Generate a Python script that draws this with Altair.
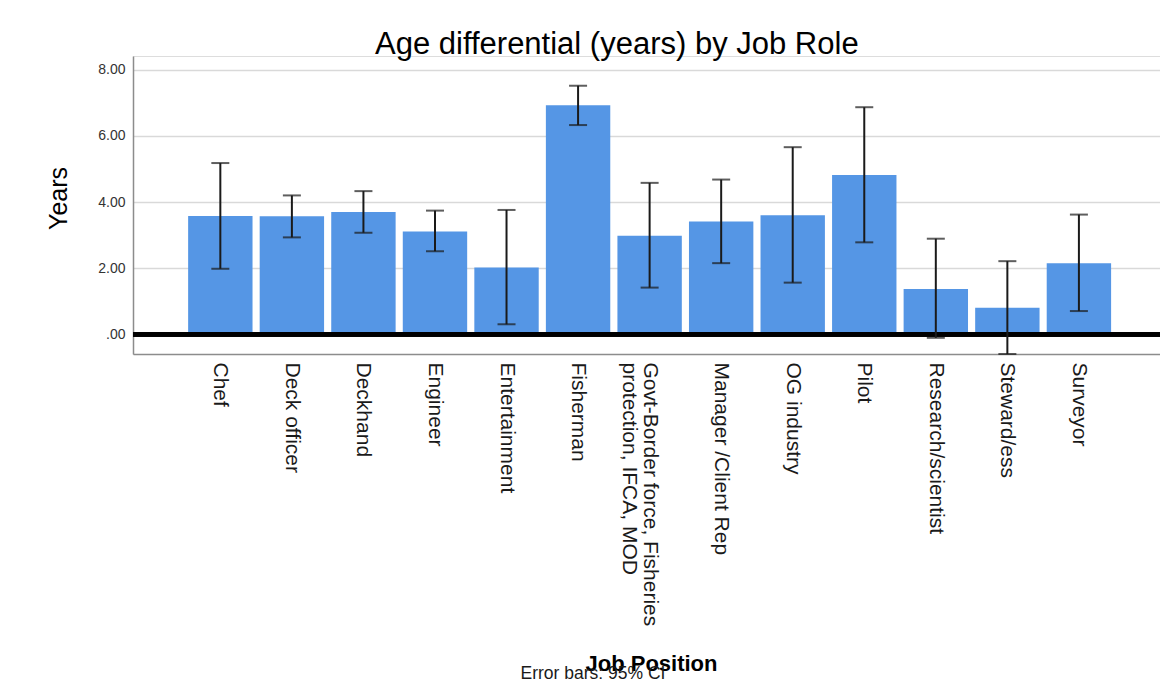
import altair as alt
import pandas as pd

jobs = [
    "Chef", "Deck officer", "Deckhand", "Engineer", "Entertainment", "Fisherman",
    "Govt-Border force, Fisheries protection, IFCA, MOD", "Manager /Client Rep",
    "OG industry", "Pilot", "Research/scientist", "Steward/ess", "Surveyor",
]
mean_years = [3.58, 3.57, 3.70, 3.11, 2.02, 6.93, 2.98, 3.41, 3.60, 4.82, 1.37, 0.80, 2.15]
ci_low = [1.98, 2.93, 3.07, 2.51, 0.30, 6.33, 1.41, 2.15, 1.56, 2.78, -0.11, -0.60, 0.70]
ci_high = [5.18, 4.20, 4.33, 3.74, 3.76, 7.52, 4.58, 4.68, 5.66, 6.87, 2.89, 2.21, 3.62]
y_ticks = [0, 2, 4, 6, 8]
footnote = ["Error bars: 95% CI"]

df = pd.DataFrame({"job": jobs, "mean": mean_years, "lo": ci_low, "hi": ci_high})

SANS = "Liberation Sans, Arial, sans-serif"

x_scale = alt.Scale(paddingInner=0.1, paddingOuter=0.727, align=0.53)
x_axis = alt.Axis(
    title="Job Position", labelAngle=90, labelAlign="left", labelBaseline="middle",
    labelPadding=8, ticks=False, labelLimit=400, labelFont=SANS, labelFontSize=21,
    labelColor="#1a1a1a", labelLineHeight=21, domainColor="#8c8c8c", domainWidth=1.5,
    titleFont=SANS, titleFontSize=22, titleFontWeight="bold", titleColor="black",
    titleX=518, titleY=316, titleAlign="center", titleBaseline="alphabetic",
    labelExpr="datum.label == 'Govt-Border force, Fisheries protection, IFCA, MOD' ? "
              "['Govt-Border force, Fisheries', 'protection, IFCA, MOD'] : datum.label",
)
y_scale = alt.Scale(domain=[-0.6, 8.42], nice=False, zero=False)
y_axis = alt.Axis(
    title="Years", values=y_ticks, grid=True, gridColor="#d9d9d9", gridWidth=1.5,
    ticks=False, labelPadding=8, labelFont=SANS, labelFontSize=14, labelColor="#333333",
    labelExpr="datum.value == 0 ? '.00' : format(datum.value, '.2f')",
    domainColor="#8c8c8c", domainWidth=1.5,
    titleFont=SANS, titleFontSize=25, titleFontWeight="normal", titleColor="black",
    titleAngle=-90, titleX=-75, titleY=142, titleAlign="center", titleBaseline="middle",
)

X = alt.X("job:N", sort=jobs, scale=x_scale, axis=x_axis)

base = alt.Chart(df)
bars = base.mark_bar(color="#5596e5").encode(
    x=X, y=alt.Y("mean:Q", scale=y_scale, axis=y_axis)
)
zero = base.mark_rule(color="black", strokeWidth=4).encode(y=alt.datum(0))
rules = base.mark_rule(color="#1a1a1a", strokeWidth=2).encode(
    x=X, y=alt.Y("lo:Q", scale=y_scale, axis=y_axis), y2="hi:Q"
)
cap_lo = base.mark_tick(color="#1a1a1a", size=18, thickness=2).encode(
    x=X, y=alt.Y("lo:Q", scale=y_scale, axis=y_axis)
)
cap_hi = base.mark_tick(color="#1a1a1a", size=18, thickness=2).encode(
    x=X, y=alt.Y("hi:Q", scale=y_scale, axis=y_axis)
)
note = alt.Chart(pd.DataFrame({"t": footnote})).mark_text(
    font=SANS, fontSize=17.5, color="#1a1a1a", align="center", baseline="alphabetic"
).encode(text="t:N", x=alt.value(460), y=alt.value(623))

chart = alt.layer(bars, zero, rules, cap_lo, cap_hi, note).properties(
    width=1027, height=298,
    title=alt.TitleParams(
        "Age differential (years) by Job Role", anchor="start", frame="group", dx=242,
        dy=30, font=SANS, fontSize=31, fontWeight="normal", color="black",
        baseline="alphabetic", offset=1,
    ),
    autosize=alt.AutoSizeParams(type="none"),
    padding={"left": 133, "top": 56, "right": 0, "bottom": 339},
).configure_view(stroke=None).configure(background="white")

chart.save("out.html", embed_options={"renderer": "svg", "actions": False})
